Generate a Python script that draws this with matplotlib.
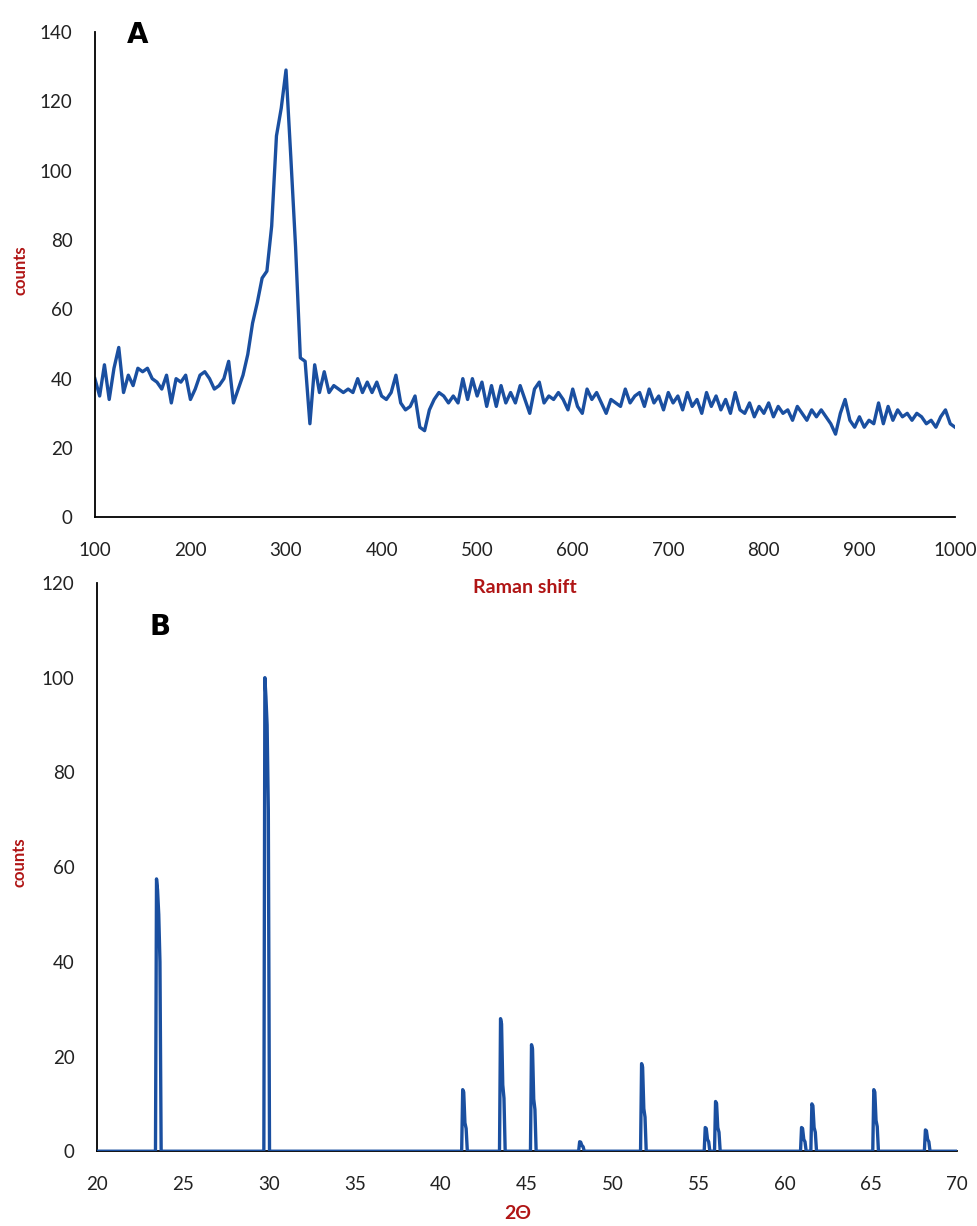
import numpy as np
from matplotlib import pyplot as plt

# Raman spectrum (panel A), read every 5 cm-1 from 100 to 1000
raman_shift = np.arange(100, 1001, 5)
raman_counts = [
    40, 35, 44, 34, 43, 49, 36, 41, 38, 43,
    42, 43, 40, 39, 37, 41, 33, 40, 39, 41,
    34, 37, 41, 42, 40, 37, 38, 40, 45, 33,
    37, 41, 47, 56, 62, 69, 71, 84, 110, 118,
    129, 104, 78, 46, 45, 27, 44, 36, 42, 36,
    38, 37, 36, 37, 36, 40, 36, 39, 36, 39,
    35, 34, 36, 41, 33, 31, 32, 35, 26, 25,
    31, 34, 36, 35, 33, 35, 33, 40, 34, 40,
    35, 39, 32, 38, 32, 38, 33, 36, 33, 38,
    34, 30, 37, 39, 33, 35, 34, 36, 34, 31,
    37, 32, 30, 37, 34, 36, 33, 30, 34, 33,
    32, 37, 33, 35, 36, 32, 37, 33, 35, 31,
    36, 33, 35, 31, 36, 32, 34, 30, 36, 32,
    35, 31, 34, 30, 36, 31, 30, 33, 29, 32,
    30, 33, 29, 32, 30, 31, 28, 32, 30, 28,
    31, 29, 31, 29, 27, 24, 30, 34, 28, 26,
    29, 26, 28, 27, 33, 27, 32, 28, 31, 29,
    30, 28, 30, 29, 27, 28, 26, 29, 31, 27,
    26,
]

# XRD peaks (panel B): position, peak height, shoulder height
xrd_pos = [23.5, 29.8, 41.3, 43.5, 45.3, 48.1, 51.7, 55.4, 56.0, 61.0, 61.6, 65.2, 68.2]
xrd_height = [57.5, 100, 13, 28, 22.5, 2, 18.5, 5, 10.5, 5, 10, 13, 4.5]
xrd_shoulder = [50, 90, 6, 14, 11, 1.2, 9, 2.5, 5, 2.5, 5, 6.5, 2.5]

# build the XRD trace from the peak list
tt, cnt = [20.0], [0.0]
for p, h, s in zip(xrd_pos, xrd_height, xrd_shoulder):
    tt += [p - 0.09, p - 0.03, p + 0.03, p + 0.1, p + 0.17, p + 0.24]
    cnt += [0, h, h * 0.96, s, s * 0.8, 0]
tt.append(70.0)
cnt.append(0.0)

blue = '#1A4FA0'
red = '#B01515'
plt.rcParams['font.family'] = ['Lato', 'DejaVu Sans']

fig = plt.figure(figsize=(9.78, 12.26), dpi=100)
axA = fig.add_axes([0.097, 0.578, 0.8795, 0.396])
axB = fig.add_axes([0.099, 0.061, 0.8794, 0.4635])

axA.plot(raman_shift, raman_counts, color=blue, lw=2.4)
axA.set_xlim(100, 1000)
axA.set_ylim(0, 140)
axA.set_xticks(range(100, 1001, 100))
axA.set_yticks(range(0, 141, 20))
axA.set_xlabel('Raman shift', color=red, fontsize=14, fontweight='bold')
axA.set_ylabel('counts', color=red, fontsize=12, fontweight='bold')
axA.xaxis.set_label_coords(0.5, -0.144)
axA.yaxis.set_label_coords(-0.087, 0.509)

axB.plot(tt, cnt, color=blue, lw=2.4, zorder=3)
axB.set_xlim(20, 70)
axB.set_ylim(0, 120)
axB.set_xticks(range(20, 71, 5))
axB.set_yticks(range(0, 121, 20))
axB.set_xlabel('2Θ', color=red, fontsize=14, fontweight='bold')
axB.set_ylabel('counts', color=red, fontsize=12, fontweight='bold')
axB.xaxis.set_label_coords(0.489, -0.109)
axB.yaxis.set_label_coords(-0.0895, 0.509)

for ax in (axA, axB):
    ax.xaxis.label.set_va('center')
    ax.yaxis.label.set_va('center')
    ax.yaxis.label.set_ha('center')
    ax.spines['top'].set_visible(False)
    ax.spines['right'].set_visible(False)
    ax.spines['left'].set_linewidth(1.3)
    ax.spines['bottom'].set_linewidth(1.3)
    ax.tick_params(axis='both', length=0, labelsize=13.5, colors='#222222')
    ax.tick_params(axis='x', pad=18)
    ax.tick_params(axis='y', pad=16)
    ax.patch.set_alpha(0)

fig.text(138 / 978, 1 - 35 / 1226, 'A', fontsize=20, fontweight='heavy',
         family='DejaVu Sans', ha='center', va='center')
fig.text(160 / 978, 1 - 627 / 1226, 'B', fontsize=20, fontweight='heavy',
         family='DejaVu Sans', ha='center', va='center')

fig.savefig('out.png', dpi=100)
